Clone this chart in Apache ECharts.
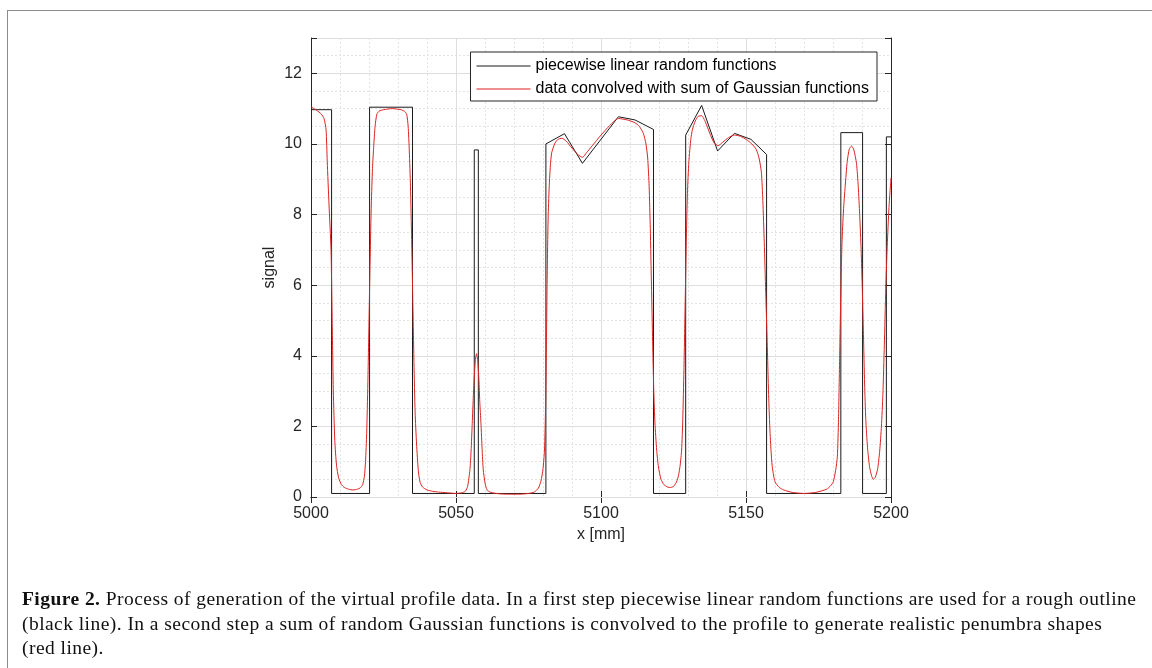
<!doctype html>
<html>
<head>
    <meta charset="utf-8">
    <title>profile-data</title>
    <script src="https://cdn.jsdelivr.net/npm/echarts@6/dist/echarts.min.js"></script>
    <style>
        html, body { margin: 0; padding: 0; background: #fff; }
        #frame { position: absolute; left: 7px; top: 10px; width: 1200px; height: 700px; border: 1px solid #8c8c8c; box-sizing: border-box; }
        #chart { position: absolute; left: 0; top: 0; width: 1152px; height: 668px; }
        #caption { position: absolute; left: 22px; top: 587px; font-family: "Liberation Serif", serif; font-size: 19.5px; letter-spacing: 0.45px; line-height: 24.5px; color: #111; white-space: nowrap; }
    </style>
</head>
<body>
    <div id="frame"></div>
    <div id="chart"></div>
    <div id="caption"><b>Figure 2.</b> Process of generation of the virtual profile data. In a first step piecewise linear random functions are used for a rough outline<br>(black line). In a second step a sum of random Gaussian functions is convolved to the profile to generate realistic penumbra shapes<br>(red line).</div>
    <script>
        // piecewise linear random functions (black)
        var blackX = [5000, 5007.1, 5007.1, 5020.2, 5020.2, 5035, 5035, 5056.3, 5056.3, 5057.7, 5057.7, 5081, 5081, 5087.4, 5093.6, 5106, 5111.7, 5118.1, 5118.1, 5129.2, 5129.2, 5134.7, 5140.2, 5146, 5151.7, 5157.1, 5157.1, 5182.7, 5182.7, 5190.2, 5190.2, 5198.4, 5198.4, 5200];
        var blackY = [10.97, 10.97, 0.1, 0.1, 11.04, 11.04, 0.1, 0.1, 9.83, 9.83, 0.1, 0.1, 10.0, 10.29, 9.45, 10.77, 10.68, 10.41, 0.1, 0.1, 10.25, 11.09, 9.8, 10.3, 10.13, 9.7, 0.1, 0.1, 10.32, 10.32, 0.1, 0.1, 10.2, 10.2];

        // data convolved with sum of Gaussian functions (red)
        var redX = [5000, 5002, 5003.5, 5004.5, 5005.2, 5005.6, 5006.2, 5006.9, 5007.3, 5007.7, 5008.2, 5008.8, 5009.5, 5010.5, 5011.5, 5013, 5014.5, 5016, 5017, 5017.8, 5018.4, 5018.8, 5019.2, 5019.6, 5020, 5020.4, 5020.8, 5021.2, 5021.6, 5022.1, 5022.7, 5023.5, 5025, 5028, 5031, 5032.3, 5033, 5033.5, 5033.9, 5034.3, 5034.7, 5035.1, 5035.5, 5035.9, 5036.4, 5037, 5037.6, 5038.5, 5040, 5042, 5044, 5047, 5050, 5052, 5053.2, 5054, 5054.8, 5055.2, 5055.6, 5056, 5056.3, 5056.7, 5057.1, 5057.5, 5057.9, 5058.2, 5058.6, 5059, 5059.4, 5060, 5060.7, 5062, 5065, 5068, 5072, 5075, 5077, 5078.4, 5079.3, 5080, 5080.5, 5080.9, 5081.2, 5081.5, 5081.8, 5082.2, 5082.6, 5083, 5084, 5085, 5086.5, 5088, 5090, 5092, 5093.6, 5095, 5097, 5100, 5103, 5106, 5109, 5111.7, 5113.2, 5114.6, 5115.5, 5116.1, 5116.6, 5117, 5117.4, 5117.8, 5118.2, 5118.6, 5119.2, 5119.8, 5120.7, 5121.7, 5123, 5124, 5125, 5126, 5126.7, 5127.3, 5127.8, 5128.2, 5128.6, 5129, 5129.4, 5129.8, 5130.3, 5131, 5131.5, 5132.5, 5133.5, 5134.7, 5136, 5137.5, 5139, 5140.4, 5142, 5144, 5146, 5148, 5150.2, 5152, 5153.5, 5154.5, 5155.3, 5155.8, 5156.3, 5156.8, 5157.3, 5157.8, 5158.3, 5159, 5160, 5161.5, 5163, 5166, 5170, 5174, 5177.8, 5179.2, 5180.1, 5180.9, 5181.5, 5181.9, 5182.3, 5182.7, 5183.1, 5183.6, 5184.2, 5184.9, 5185.6, 5186.4, 5187.2, 5188.1, 5188.7, 5189.2, 5189.7, 5190.1, 5190.5, 5190.9, 5191.3, 5191.9, 5192.6, 5193.3, 5193.9, 5194.6, 5195.4, 5196.1, 5196.7, 5197.2, 5197.7, 5198.2, 5198.7, 5199.3, 5200];
        var redY = [11.05, 10.95, 10.85, 10.72, 10.4, 9.5, 8.3, 7.0, 5.0, 3.0, 1.6, 0.9, 0.55, 0.35, 0.27, 0.22, 0.2, 0.22, 0.26, 0.35, 0.58, 1.0, 1.8, 3.2, 5.0, 6.8, 8.3, 9.3, 9.9, 10.5, 10.84, 10.93, 10.97, 11.0, 10.97, 10.92, 10.84, 10.5, 9.8, 8.8, 7.3, 5.6, 3.8, 2.4, 1.5, 0.75, 0.42, 0.28, 0.2, 0.16, 0.14, 0.12, 0.1, 0.12, 0.16, 0.3, 0.77, 1.3, 2.09, 2.9, 3.4, 3.9, 4.06, 3.85, 3.32, 2.7, 2.09, 1.35, 0.77, 0.4, 0.2, 0.13, 0.09, 0.08, 0.08, 0.1, 0.14, 0.25, 0.45, 0.8, 1.3, 2.6, 4.5, 6.6, 8.0, 8.9, 9.45, 9.75, 10.0, 10.12, 10.16, 10.08, 9.88, 9.7, 9.62, 9.75, 9.95, 10.25, 10.52, 10.72, 10.68, 10.6, 10.5, 10.3, 10.0, 9.6, 8.8, 7.6, 6.0, 4.4, 3.0, 2.1, 1.33, 0.85, 0.5, 0.35, 0.28, 0.27, 0.3, 0.42, 0.6, 0.9, 1.33, 2.2, 3.6, 5.4, 7.2, 8.6, 9.5, 10.15, 10.4, 10.65, 10.78, 10.8, 10.62, 10.3, 10.03, 9.95, 10.05, 10.18, 10.25, 10.22, 10.12, 10.0, 9.85, 9.6, 9.2, 8.4, 7.2, 5.8, 4.4, 2.9, 1.8, 0.9, 0.43, 0.27, 0.2, 0.13, 0.1, 0.13, 0.22, 0.32, 0.43, 0.75, 1.14, 2.2, 4.0, 5.8, 7.2, 8.1, 8.8, 9.5, 9.85, 9.94, 9.83, 9.45, 8.8, 8.0, 7.0, 5.9, 4.6, 3.2, 2.2, 1.4, 0.86, 0.6, 0.5, 0.56, 0.8, 1.3, 2.0, 2.9, 4.3, 5.9, 7.1, 8.2, 9.04];

        var seriesNames = ['piecewise linear random functions', 'data convolved with sum of Gaussian functions'];
        var xTicks = [5000, 5050, 5100, 5150, 5200];
        var yTicks = [0, 2, 4, 6, 8, 10, 12];

        function zip(xs, ys) {
            var out = [];
            for (var i = 0; i < xs.length; i++) { out.push([xs[i], ys[i]]); }
            return out;
        }

        var axisColor = '#262626';
        var font = 'Liberation Sans';
        var fs = 16;

        var chart = echarts.init(document.getElementById('chart'), null, { renderer: 'canvas' });
        var option = {
            animation: false,
            backgroundColor: 'transparent',
            textStyle: { fontFamily: font },
            grid: { left: 311, right: 261, top: 38, bottom: 171, containLabel: false },
            legend: {
                data: seriesNames,
                orient: 'vertical',
                right: 275,
                top: 52,
                icon: 'rect',
                itemWidth: 54,
                itemHeight: 1,
                itemGap: 7,
                padding: [6, 8, 4, 6],
                borderColor: axisColor,
                borderWidth: 1,
                backgroundColor: '#fff',
                textStyle: { fontSize: fs, color: '#000', fontFamily: font },
                selectedMode: false
            },
            xAxis: [{
                type: 'value',
                position: 'bottom',
                min: xTicks[0],
                max: xTicks[xTicks.length - 1],
                interval: 50,
                name: 'x [mm]',
                nameLocation: 'middle',
                nameGap: 25,
                nameTextStyle: { fontSize: fs, color: axisColor, fontFamily: font },
                axisLine: { lineStyle: { color: axisColor, width: 1 } },
                axisTick: { inside: true, length: 6, lineStyle: { color: axisColor } },
                axisLabel: { fontSize: fs, color: axisColor, margin: 9, fontFamily: font, formatter: function (v) { return String(v); } },
                splitLine: { show: true, lineStyle: { color: '#dedede', width: 1 } },
                minorTick: { show: false, splitNumber: 5 },
                minorSplitLine: { show: true, lineStyle: { color: '#e4e4e4', width: 1, type: [2, 2] } }
            }, {
                type: 'value',
                position: 'top',
                min: xTicks[0],
                max: xTicks[xTicks.length - 1],
                interval: 50,
                axisLine: { lineStyle: { color: axisColor, width: 1 } },
                axisTick: { inside: true, length: 6, lineStyle: { color: axisColor } },
                axisLabel: { show: false },
                splitLine: { show: false }
            }],
            yAxis: [{
                // minor grid only
                type: 'value',
                position: 'left',
                min: 0,
                max: 13,
                interval: 0.5,
                z: 0,
                axisLine: { show: false },
                axisTick: { show: false },
                axisLabel: { show: false },
                splitLine: { show: true, lineStyle: { color: '#e4e4e4', width: 1, type: [2, 2] } }
            }, {
                type: 'value',
                position: 'left',
                min: 0,
                max: 13,
                interval: 2,
                z: 1,
                name: 'signal',
                nameLocation: 'middle',
                nameGap: 33,
                nameMoveOverlap: false,
                nameRotate: 90,
                nameTextStyle: { fontSize: fs, color: axisColor, fontFamily: font },
                axisLine: { show: true, lineStyle: { color: axisColor, width: 1 } },
                axisTick: { inside: true, length: 6, lineStyle: { color: axisColor } },
                axisLabel: {
                    fontSize: fs, color: axisColor, margin: 9, fontFamily: font,
                    formatter: function (v) { return yTicks.indexOf(v) >= 0 ? String(v) : ''; }
                },
                splitLine: { show: true, lineStyle: { color: '#dedede', width: 1 } }
            }, {
                type: 'value',
                position: 'right',
                min: 0,
                max: 13,
                interval: 2,
                z: 1,
                axisLine: { show: true, lineStyle: { color: axisColor, width: 1 } },
                axisTick: { inside: true, length: 6, lineStyle: { color: axisColor } },
                axisLabel: { show: false },
                splitLine: { show: false }
            }],
            series: [{
                name: seriesNames[0],
                type: 'line',
                yAxisIndex: 1,
                data: zip(blackX, blackY),
                symbol: 'none',
                lineStyle: { color: '#1a1a1a', width: 1 },
                itemStyle: { color: '#1a1a1a' },
                z: 3
            }, {
                name: seriesNames[1],
                type: 'line',
                yAxisIndex: 1,
                data: zip(redX, redY),
                symbol: 'none',
                smooth: 0.2,
                lineStyle: { color: '#dd2222', width: 1 },
                itemStyle: { color: '#dd2222' },
                z: 4
            }]
        };
        chart.setOption(option);
    </script>
</body>
</html>
